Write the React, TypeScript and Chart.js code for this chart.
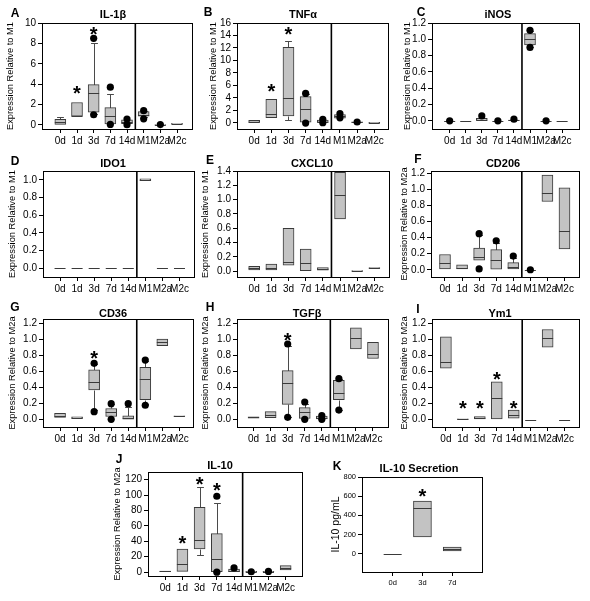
import React, { useEffect, useRef } from "react";
import { Chart, registerables } from "chart.js";

Chart.register(...registerables);

const FONT = '"Liberation Sans", Arial, Helvetica, sans-serif';

const cellCats = ["0d", "1d", "3d", "7d", "14d", "M1", "M2a", "M2c"];
const secretionCats = ["0d", "3d", "7d"];

// Each box: [lower whisker, Q1, median, Q3, upper whisker]; null = no whisker
const il1bBoxes = [
  [null, 0.05, 0.25, 0.55, 0.75],
  [null, 0.85, 0.92, 2.2, null],
  [1.1, 1.25, 3.15, 3.95, 8.05],
  [null, 0.1, 0.9, 1.7, 3.0],
  [null, 0.12, 0.3, 0.5, null],
  [0.75, 0.85, 1.0, 1.3, 1.35],
  [null, 0.0, 0.02, 0.05, null],
  [null, 0.1, 0.12, 0.15, null],
];
const il1bDots = [[], [], [8.5, 1.0], [3.7, 0.05], [0.58, 0.02], [1.4, 0.6], [0.03], []];
const il1bStars = [null, 3.55, 9.4, null, null, null, null, null];
const il1bTicks = [0, 2, 4, 6, 8, 10];

const tnfBoxes = [
  [null, 0.05, 0.2, 0.4, null],
  [null, 0.8, 1.35, 3.75, null],
  [0.45, 1.1, 3.9, 12.1, 13.1],
  [null, 0.1, 2.2, 4.2, 4.6],
  [null, 0.05, 0.2, 0.45, null],
  [null, 0.75, 1.05, 1.3, null],
  [null, 0.05, 0.1, 0.15, null],
  [null, 0.02, 0.04, 0.06, null],
];
const tnfDots = [[], [], [], [4.7, -0.05], [0.55, 0.0], [1.45, 0.8], [0.12], []];
const tnfStars = [null, 5.8, 14.9, null, null, null, null, null];
const tnfTicks = [0, 2, 4, 6, 8, 10, 12, 14, 16];

const inosBoxes = [
  [null, 0, 0, 0, null],
  [null, 0, 0, 0, null],
  [null, 0, 0.005, 0.03, null],
  [null, 0, 0, 0, null],
  [null, 0, 0.005, 0.01, null],
  [0.9, 0.93, 1.0, 1.07, 1.1],
  [null, 0, 0, 0, null],
  [null, 0, 0, 0, null],
];
const inosDots = [[0], [], [0.06], [0], [0.02], [1.11, 0.9], [0], []];
const inosStars = [null, null, null, null, null, null, null, null];
const inosTicks = [0, 0.2, 0.4, 0.6, 0.8, 1.0, 1.2];

const ido1Boxes = [
  [null, 0, 0, 0, null],
  [null, 0, 0, 0, null],
  [null, 0, 0, 0, null],
  [null, 0, 0, 0, null],
  [null, 0, 0, 0, null],
  [null, 0.99, 1.0, 1.01, null],
  [null, 0, 0, 0, null],
  [null, 0, 0, 0, null],
];
const ido1Dots = [[], [], [], [], [], [], [], []];
const ido1Stars = [null, null, null, null, null, null, null, null];
const ido1Ticks = [0, 0.2, 0.4, 0.6, 0.8, 1.0];

const cxcl10Boxes = [
  [null, 0.02, 0.04, 0.07, null],
  [null, 0.02, 0.04, 0.1, null],
  [null, 0.085, 0.135, 0.6, null],
  [null, 0.0, 0.12, 0.31, null],
  [null, 0.015, 0.03, 0.05, null],
  [null, 0.73, 1.06, 1.38, null],
  [null, 0.005, 0.01, 0.01, null],
  [null, 0.04, 0.045, 0.05, null],
];
const cxcl10Dots = [[], [], [], [], [], [], [], []];
const cxcl10Stars = [null, null, null, null, null, null, null, null];
const cxcl10Ticks = [0, 0.2, 0.4, 0.6, 0.8, 1.0, 1.2, 1.4];

const cd206Boxes = [
  [null, 0.01, 0.09, 0.19, null],
  [null, 0.01, 0.02, 0.06, null],
  [null, 0.12, 0.16, 0.27, 0.43],
  [null, 0.0, 0.12, 0.25, 0.33],
  [null, 0.01, 0.03, 0.09, 0.15],
  [null, 0, 0, 0, null],
  [null, 0.85, 0.95, 1.18, null],
  [null, 0.26, 0.48, 1.02, null],
];
const cd206Dots = [[], [], [0.45, 0.01], [0.36], [0.17], [0.0], [], []];
const cd206Stars = [null, null, null, null, null, null, null, null];
const cd206Ticks = [0, 0.2, 0.4, 0.6, 0.8, 1.0, 1.2];

const cd36Boxes = [
  [null, 0.03, 0.05, 0.08, null],
  [null, 0.015, 0.025, 0.035, null],
  [0.12, 0.37, 0.47, 0.62, 0.69],
  [null, 0.04, 0.1, 0.14, 0.19],
  [null, 0.0, 0.02, 0.05, 0.16],
  [0.19, 0.25, 0.5, 0.65, 0.73],
  [null, 0.92, 0.96, 1.0, null],
  [null, 0.04, 0.045, 0.05, null],
];
const cd36Dots = [[], [], [0.7, 0.1], [0.2, 0.005], [0.2], [0.74, 0.18], [], []];
const cd36Stars = [null, null, 0.82, null, null, null, null, null];
const cd36Ticks = [0, 0.2, 0.4, 0.6, 0.8, 1.0, 1.2];

const tgfbBoxes = [
  [null, 0.02, 0.03, 0.035, null],
  [null, 0.025, 0.055, 0.1, null],
  [0.04, 0.19, 0.45, 0.61, 0.92],
  [null, 0.015, 0.1, 0.15, 0.2],
  [null, 0.01, 0.02, 0.045, null],
  [0.12, 0.25, 0.335, 0.49, 0.5],
  [null, 0.88, 1.01, 1.14, null],
  [null, 0.76, 0.81, 0.96, null],
];
const tgfbDots = [[], [], [0.94, 0.03], [0.22, 0.005], [0.05, 0.005], [0.51, 0.12], [], []];
const tgfbStars = [null, null, 1.05, null, null, null, null, null];
const tgfbTicks = [0, 0.2, 0.4, 0.6, 0.8, 1.0, 1.2];

const ym1Boxes = [
  [null, 0.64, 0.72, 1.03, null],
  [null, 0.005, 0.01, 0.01, null],
  [null, 0.01, 0.025, 0.04, null],
  [null, 0.01, 0.27, 0.47, null],
  [null, 0.02, 0.06, 0.12, null],
  [null, 0, 0, 0, null],
  [null, 0.9, 1.01, 1.12, null],
  [null, 0, 0, 0, null],
];
const ym1Dots = [[], [], [], [], [], [], [], []];
const ym1Stars = [null, 0.2, 0.2, 0.56, 0.2, null, null, null];
const ym1Ticks = [0, 0.2, 0.4, 0.6, 0.8, 1.0, 1.2];

const il10Boxes = [
  [null, 0.5, 1, 1.5, null],
  [null, 1, 10, 30, null],
  [22, 30, 41.5, 84, 110],
  [null, 0, 17, 50, 90],
  [null, 0.5, 2, 4, null],
  [null, 0, 0.5, 1, null],
  [null, 0, 0.5, 1, null],
  [null, 3, 6, 8.5, null],
];
const il10Dots = [[], [], [], [98.5, 0], [5.5], [0.5], [1], []];
const il10Stars = [null, 44, 120, 112, null, null, null, null];
const il10Ticks = [0, 20, 40, 60, 80, 100, 120];

const secretionBoxes = [
  [null, 0, 0, 0, null],
  [null, 175, 475, 550, null],
  [null, 30, 50, 70, null],
];
const secretionDots = [[], [], []];
const secretionStars = [null, 650, null];
const secretionTicks = [0, 200, 400, 600, 800];

type Panel = {
  key: string;
  letter: string;
  title: string;
  ylabel: string;
  cats: string[];
  boxes: (number | null)[][];
  dots: number[][];
  stars: (number | null)[];
  yTicks: number[];
  dec: number;
  frame: [number, number, number, number];
  yRange: [number, number];
  xRange: [number, number];
  divider: number | null;
  titlePos: [number, number];
  letterPos: [number, number];
  ylabelX: number;
  barW: number;
  tickSize: number;
  ylabelSize: number;
};

const M1 = "Expression Relative to M1";
const M2a = "Expression Relative to M2a";

const panels: Panel[] = [
  { key: "A", letter: "A", title: "IL-1β", ylabel: M1, cats: cellCats, boxes: il1bBoxes, dots: il1bDots, stars: il1bStars, yTicks: il1bTicks, dec: 0,
    frame: [42, 23, 192, 129], yRange: [-0.4, 10], xRange: [-1.1, 7.9], divider: 4.5, titlePos: [113, 15], letterPos: [15, 14], ylabelX: 10, barW: 11, tickSize: 10, ylabelSize: 9.3 },
  { key: "B", letter: "B", title: "TNFα", ylabel: M1, cats: cellCats, boxes: tnfBoxes, dots: tnfDots, stars: tnfStars, yTicks: tnfTicks, dec: 0,
    frame: [237, 23, 388, 129], yRange: [-1.0, 16], xRange: [-1.0, 7.8], divider: 4.5, titlePos: [303, 15], letterPos: [208, 13], ylabelX: 213, barW: 11, tickSize: 10, ylabelSize: 9.3 },
  { key: "C", letter: "C", title: "iNOS", ylabel: M1, cats: cellCats, boxes: inosBoxes, dots: inosDots, stars: inosStars, yTicks: inosTicks, dec: 1,
    frame: [432, 23, 579, 129], yRange: [-0.1, 1.2], xRange: [-1.1, 8.05], divider: 4.5, titlePos: [498, 15], letterPos: [421, 13], ylabelX: 407, barW: 11, tickSize: 10, ylabelSize: 9.3 },
  { key: "D", letter: "D", title: "IDO1", ylabel: M1, cats: cellCats, boxes: ido1Boxes, dots: ido1Dots, stars: ido1Stars, yTicks: ido1Ticks, dec: 1,
    frame: [43, 171, 194, 277], yRange: [-0.1, 1.1], xRange: [-1.0, 7.85], divider: 4.5, titlePos: [113, 164], letterPos: [15, 162], ylabelX: 12, barW: 11, tickSize: 10, ylabelSize: 9.3 },
  { key: "E", letter: "E", title: "CXCL10", ylabel: M1, cats: cellCats, boxes: cxcl10Boxes, dots: cxcl10Dots, stars: cxcl10Stars, yTicks: cxcl10Ticks, dec: 1,
    frame: [237, 171, 389, 277], yRange: [-0.08, 1.4], xRange: [-1.0, 7.85], divider: 4.5, titlePos: [312, 164], letterPos: [210, 161], ylabelX: 205, barW: 11, tickSize: 10, ylabelSize: 9.3 },
  { key: "F", letter: "F", title: "CD206", ylabel: M2a, cats: cellCats, boxes: cd206Boxes, dots: cd206Dots, stars: cd206Stars, yTicks: cd206Ticks, dec: 1,
    frame: [431, 171, 579, 277], yRange: [-0.09, 1.23], xRange: [-0.82, 7.85], divider: 4.5, titlePos: [503, 164], letterPos: [418, 160], ylabelX: 404, barW: 11, tickSize: 10, ylabelSize: 9.3 },
  { key: "G", letter: "G", title: "CD36", ylabel: M2a, cats: cellCats, boxes: cd36Boxes, dots: cd36Dots, stars: cd36Stars, yTicks: cd36Ticks, dec: 1,
    frame: [43, 319, 193, 427], yRange: [-0.09, 1.25], xRange: [-1.0, 7.8], divider: 4.5, titlePos: [113, 314], letterPos: [15, 308], ylabelX: 12, barW: 11, tickSize: 10, ylabelSize: 9.3 },
  { key: "H", letter: "H", title: "TGFβ", ylabel: M2a, cats: cellCats, boxes: tgfbBoxes, dots: tgfbDots, stars: tgfbStars, yTicks: tgfbTicks, dec: 1,
    frame: [237, 319, 388, 427], yRange: [-0.09, 1.25], xRange: [-0.97, 7.88], divider: 4.5, titlePos: [307, 314], letterPos: [210, 308], ylabelX: 205, barW: 11, tickSize: 10, ylabelSize: 9.3 },
  { key: "I", letter: "I", title: "Ym1", ylabel: M2a, cats: cellCats, boxes: ym1Boxes, dots: ym1Dots, stars: ym1Stars, yTicks: ym1Ticks, dec: 1,
    frame: [432, 319, 579, 427], yRange: [-0.09, 1.25], xRange: [-0.82, 7.85], divider: 4.5, titlePos: [500, 314], letterPos: [418, 310], ylabelX: 404, barW: 11, tickSize: 10, ylabelSize: 9.3 },
  { key: "J", letter: "J", title: "IL-10", ylabel: M2a, cats: cellCats, boxes: il10Boxes, dots: il10Dots, stars: il10Stars, yTicks: il10Ticks, dec: 0,
    frame: [148, 472, 302, 576], yRange: [-5, 130], xRange: [-1.0, 7.95], divider: 4.5, titlePos: [220, 466], letterPos: [119, 460], ylabelX: 117, barW: 11, tickSize: 10, ylabelSize: 9.3 },
  { key: "K", letter: "K", title: "IL-10 Secretion", ylabel: "IL-10 pg/mL", cats: secretionCats, boxes: secretionBoxes, dots: secretionDots, stars: secretionStars, yTicks: secretionTicks, dec: 0,
    frame: [362, 477, 482, 572], yRange: [-190, 800], xRange: [-1.03, 3.0], divider: null, titlePos: [419, 469], letterPos: [337, 467], ylabelX: 336, barW: 18, tickSize: 7.5, ylabelSize: 10.5 },
];

const PAD_L = 40;
const PAD_T = 26;
const PAD_R = 8;
const PAD_B = 20;

function BoxPanel({ p }: { p: Panel }) {
  const ref = useRef<HTMLCanvasElement | null>(null);
  const [fl, ft, fr, fb] = p.frame;
  const W = fr - fl + PAD_L + PAD_R;
  const H = fb - ft + PAD_T + PAD_B;
  const ox = fl - PAD_L;
  const oy = ft - PAD_T;

  useEffect(() => {
    if (!ref.current) return;
    const boxData = p.boxes.map((b, i) => ({ x: i, y: [b[1] as number, b[3] as number] }));
    const dotData: { x: number; y: number }[] = [];
    p.dots.forEach((arr, i) => arr.forEach((v) => dotData.push({ x: i, y: v })));

    const extras = {
      id: "boxExtras",
      beforeDatasetsDraw(chart: any) {
        const { ctx, chartArea: a, scales } = chart;
        const xs = scales.x;
        const ys = scales.y;
        ctx.save();
        ctx.strokeStyle = "#4a4a4a";
        ctx.lineWidth = 1;
        const cap = (p.barW * 0.62) / 2;
        p.boxes.forEach((b, i) => {
          const px = Math.round(xs.getPixelForValue(i)) + 0.5;
          const draw = (from: number, to: number) => {
            const y1 = Math.round(ys.getPixelForValue(from)) + 0.5;
            const y2 = Math.round(ys.getPixelForValue(to)) + 0.5;
            ctx.beginPath();
            ctx.moveTo(px, y1);
            ctx.lineTo(px, y2);
            ctx.moveTo(px - cap, y2);
            ctx.lineTo(px + cap, y2);
            ctx.stroke();
          };
          if (b[0] != null) draw(b[1] as number, b[0] as number);
          if (b[4] != null) draw(b[3] as number, b[4] as number);
        });
        if (p.divider != null) {
          const dx = xs.getPixelForValue(p.divider);
          ctx.strokeStyle = "#000";
          ctx.lineWidth = 1.6;
          ctx.beginPath();
          ctx.moveTo(dx, a.top);
          ctx.lineTo(dx, a.bottom);
          ctx.stroke();
        }
        ctx.restore();
      },
      afterDatasetDraw(chart: any, args: any) {
        if (args.meta.type !== "bar") return;
        const { ctx, scales } = chart;
        const xs = scales.x;
        const ys = scales.y;
        ctx.save();
        ctx.strokeStyle = "#3a3a3a";
        ctx.lineWidth = 1;
        p.boxes.forEach((b, i) => {
          const px = xs.getPixelForValue(i);
          const py = Math.round(ys.getPixelForValue(b[2] as number)) + 0.5;
          ctx.beginPath();
          ctx.moveTo(px - p.barW / 2, py);
          ctx.lineTo(px + p.barW / 2, py);
          ctx.stroke();
        });
        ctx.restore();
      },
      afterDraw(chart: any) {
        const { ctx, chartArea: a, scales } = chart;
        const xs = scales.x;
        const ys = scales.y;
        ctx.save();
        ctx.strokeStyle = "#000";
        ctx.lineWidth = 1;
        ctx.strokeRect(Math.round(a.left) + 0.5, Math.round(a.top) + 0.5, Math.round(a.right - a.left), Math.round(a.bottom - a.top));
        ctx.fillStyle = "#000";
        ctx.font = `bold 11px ${FONT}`;
        ctx.textAlign = "center";
        ctx.textBaseline = "middle";
        ctx.fillText(p.title, p.titlePos[0] - ox, p.titlePos[1] - oy);
        ctx.font = `bold 12px ${FONT}`;
        ctx.fillText(p.letter, p.letterPos[0] - ox, p.letterPos[1] - oy);
        ctx.save();
        ctx.translate(p.ylabelX - ox, (a.top + a.bottom) / 2);
        ctx.rotate(-Math.PI / 2);
        ctx.font = `${p.ylabelSize}px ${FONT}`;
        ctx.fillText(p.ylabel, 0, 0);
        ctx.restore();
        const ss = 20;
        ctx.font = `bold ${ss}px ${FONT}`;
        ctx.textBaseline = "alphabetic";
        p.stars.forEach((s, i) => {
          if (s == null) return;
          ctx.fillText("*", xs.getPixelForValue(i), ys.getPixelForValue(s) + ss * 0.58);
        });
        ctx.restore();
      },
    };

    const chart = new Chart(ref.current, {
      type: "bar",
      data: {
        datasets: [
          {
            type: "bar",
            data: boxData as any,
            backgroundColor: "#c3c3c3",
            borderColor: "#3a3a3a",
            borderWidth: 1,
            borderSkipped: false,
            barThickness: p.barW,
            grouped: false,
            order: 2,
          } as any,
          {
            type: "scatter",
            data: dotData,
            pointRadius: 3.6,
            pointBackgroundColor: "#000",
            pointBorderColor: "#000",
            pointBorderWidth: 0,
            clip: false,
            order: 1,
          } as any,
        ],
      },
      options: {
        animation: false,
        responsive: false,
        devicePixelRatio: 1,
        events: [],
        layout: { padding: { top: PAD_T, right: PAD_R, left: 0, bottom: 0 } },
        plugins: { legend: { display: false }, tooltip: { enabled: false }, title: { display: false } },
        scales: {
          x: {
            type: "linear",
            min: p.xRange[0],
            max: p.xRange[1],
            offset: false,
            afterBuildTicks: (axis: any) => {
              axis.ticks = p.cats.map((_, i) => ({ value: i }));
            },
            afterFit: (s: any) => {
              s.height = PAD_B;
            },
            ticks: {
              autoSkip: false,
              maxRotation: 0,
              minRotation: 0,
              padding: 2,
              color: "#000",
              font: { family: FONT, size: p.tickSize },
              callback: (v: any) => p.cats[Number(v)] ?? "",
            },
            grid: { display: true, offset: false, drawOnChartArea: false, drawTicks: true, tickLength: 4, color: "#000", lineWidth: 1 },
            border: { display: true, color: "#000", width: 1 },
          } as any,
          y: {
            type: "linear",
            min: p.yRange[0],
            max: p.yRange[1],
            afterBuildTicks: (axis: any) => {
              axis.ticks = p.yTicks.map((v) => ({ value: v }));
            },
            afterFit: (s: any) => {
              s.width = PAD_L;
            },
            ticks: {
              autoSkip: false,
              padding: 2,
              color: "#000",
              font: { family: FONT, size: p.tickSize },
              callback: (v: any) => Number(v).toFixed(p.dec),
            },
            grid: { display: true, drawOnChartArea: false, drawTicks: true, tickLength: 4, color: "#000", lineWidth: 1 },
            border: { display: true, color: "#000", width: 1 },
          } as any,
        },
      },
      plugins: [extras as any],
    });
    return () => chart.destroy();
  }, []);

  return (
    <canvas
      ref={ref}
      width={W}
      height={H}
      style={{ position: "absolute", left: ox, top: oy, width: W, height: H }}
    />
  );
}

export default function App() {
  return (
    <div
      style={{
        position: "fixed",
        left: 0,
        top: 0,
        width: 590,
        height: 601,
        background: "#fff",
        overflow: "hidden",
        fontFamily: FONT,
      }}
    >
      {panels.map((p) => (
        <BoxPanel key={p.key} p={p} />
      ))}
    </div>
  );
}
